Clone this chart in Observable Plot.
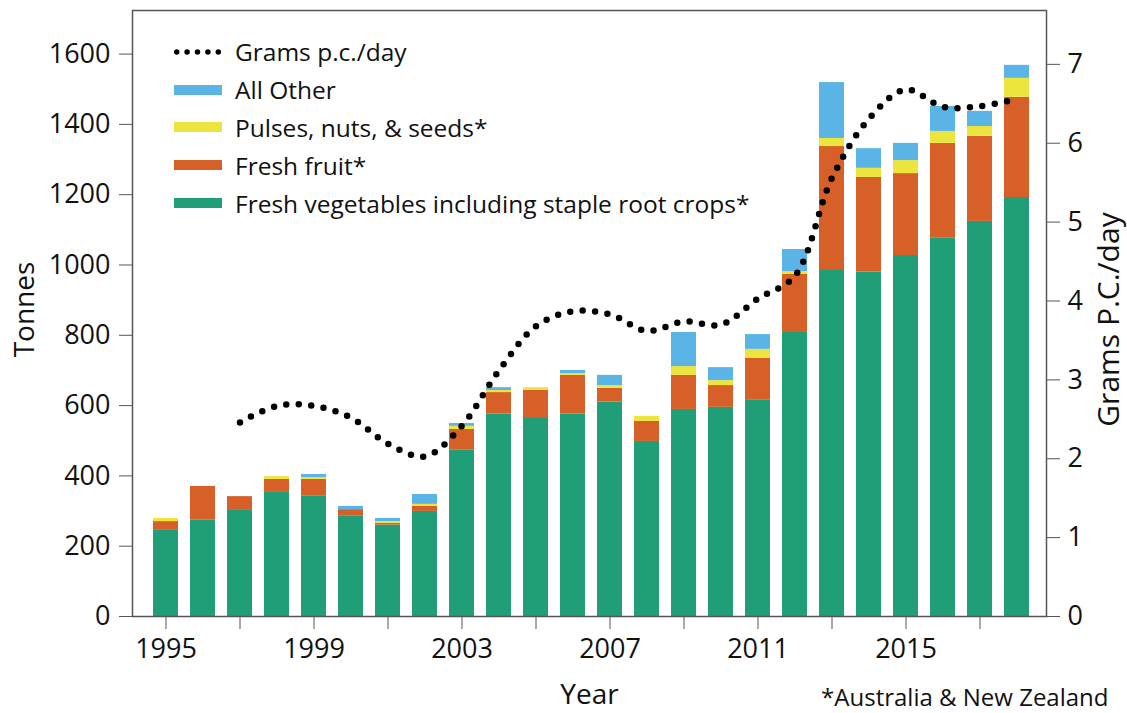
<!DOCTYPE html>
<html><head><meta charset="utf-8">
<script src="https://cdn.jsdelivr.net/npm/d3@7"></script>
<script src="https://cdn.jsdelivr.net/npm/@observablehq/plot@0.6"></script>
<style>
body{margin:0;background:#fff;font-family:"Open Sans",sans-serif;}
#wrap{position:relative;width:1127px;height:713px;}
#legend{position:absolute;left:174px;top:32.7px;font-size:24.5px;color:#111;}
.row{display:flex;align-items:center;height:37.9px;white-space:nowrap;}
.sw{width:48px;height:10px;margin-right:13px;flex:none;display:block;}
</style></head><body><div id="wrap"><div id="legend"></div></div>
<script>
const years = [1995,1996,1997,1998,1999,2000,2001,2002,2003,2004,2005,2006,2007,2008,2009,2010,2011,2012,2013,2014,2015,2016,2017,2018];
const veg    = [245,274,304,353,342,285,260,299,473,576,566,576,610,498,589,595,615,808,987,980,1027,1076,1124,1192];
const fruit  = [25,96,37,37,48,19,5,14,59,61,77,110,39,57,97,62,119,165,350,269,233,270,242,285];
const pulses = [9,0,0,8,5,0,5,6,9,6,8,5,8,14,25,14,26,8,23,26,37,34,28,54];
const other  = [0,0,0,0,9,9,9,28,8,8,0,9,29,0,97,37,42,63,159,56,49,71,43,37];
const grams  = [null,null,2.46,2.67,2.67,2.52,2.19,2.03,2.42,3.12,3.68,3.87,3.83,3.62,3.74,3.70,4.03,4.32,5.56,6.31,6.68,6.46,6.47,6.56];

const seriesNames = ["Fresh vegetables including staple root crops*","Fresh fruit*","Pulses, nuts, & seeds*","All Other"];
const seriesColors = ["#1f9e77","#d66027","#ece53e","#5bb4e6"];
const lineName = "Grams p.c./day";
const yTicks = [0,200,400,600,800,1000,1200,1400,1600];
const y2Ticks = [0,1,2,3,4,5,6,7];
const xTickYears = [1995,1997,1999,2001,2003,2005,2007,2009,2011,2013,2015,2017];
const xLabelYears = [1995,1999,2003,2007,2011,2015];
const yTitle = "Tonnes", y2Title = "Grams P.C./day", xTitle = "Year";
const note = "*Australia & New Zealand";

const seriesValues = [veg, fruit, pulses, other];
const rows = years.flatMap((yr, i) => seriesValues.map((arr, j) => ({year: yr, series: seriesNames[j], value: arr[i]})));
const gramRows = years.map((yr, i) => ({year: yr, g: grams[i]})).filter(d => d.g != null);

const yMax = 1724;
const y2 = d3.scaleLinear([0, yMax / 224.4], [0, yMax]);

const chart = Plot.plot({
  width: 1127, height: 713,
  marginTop: 10, marginBottom: 97, marginLeft: 132, marginRight: 81,
  style: {fontFamily: '"Open Sans", sans-serif', fontSize: "27px", color: "#111", background: "white"},
  x: {type: "band", domain: years, range: [134, 1048], paddingInner: 0.33, paddingOuter: 0.4},
  y: {domain: [0, yMax]},
  color: {domain: seriesNames, range: seriesColors},
  marks: [
    Plot.barY(rows, {x: "year", y: "value", fill: "series"}),
    Plot.line(gramRows, {x: "year", y: d => y2(d.g), curve: "catmull-rom", stroke: "#000", strokeWidth: 6.5, strokeDasharray: "0 12.5", strokeLinecap: "round"}),
    Plot.frame({stroke: "#555", strokeWidth: 1.5}),
    Plot.axisY({ticks: yTicks, tickFormat: d => String(d), tickSize: 13, tickPadding: 9, stroke: "#555", fill: "#111", label: null}),
    Plot.axisY(y2Ticks, {anchor: "right", y: y2, tickFormat: d => String(d), tickSize: 13, tickPadding: 8, stroke: "#555", fill: "#111", label: null}),
    Plot.axisX({ticks: xTickYears, tickFormat: d => xLabelYears.includes(d) ? String(d) : "", tickSize: 13, tickPadding: 9, stroke: "#555", fill: "#111", label: null}),
    Plot.text([yTitle], {frameAnchor: "left", rotate: -90, dx: -99, dy: -4, textAnchor: "middle", lineAnchor: "bottom", fontSize: 28, fill: "#111"}),
    Plot.text([y2Title], {frameAnchor: "right", rotate: -90, dx: 72, dy: 6, textAnchor: "middle", lineAnchor: "bottom", fontSize: 30, fill: "#111"}),
    Plot.text([xTitle], {frameAnchor: "bottom", dy: 87, textAnchor: "middle", lineAnchor: "bottom", fontSize: 28, fill: "#111"}),
    Plot.text([note], {frameAnchor: "bottom-right", dx: 62, dy: 89, textAnchor: "end", lineAnchor: "bottom", fontSize: 24, fill: "#111"})
  ]
});
const wrap = document.getElementById("wrap");
wrap.insertBefore(chart, wrap.firstChild);

// legend
const legend = document.getElementById("legend");
const items = [{name: lineName, line: true}].concat(seriesNames.map((n, i) => ({name: n, color: seriesColors[i]})).reverse());
for (const it of items) {
  const row = document.createElement("div");
  row.className = "row";
  if (it.line) {
    const s = d3.create("svg").attr("class", "sw").attr("width", 48).attr("height", 10);
    s.append("line").attr("x1", 2.7).attr("x2", 46).attr("y1", 5).attr("y2", 5)
      .attr("stroke", "#000").attr("stroke-width", 5.5).attr("stroke-linecap", "round").attr("stroke-dasharray", "0 10.4");
    row.appendChild(s.node());
  } else {
    const sw = document.createElement("div");
    sw.className = "sw";
    sw.style.background = it.color;
    row.appendChild(sw);
  }
  const t = document.createElement("span");
  t.textContent = it.name;
  row.appendChild(t);
  legend.appendChild(row);
}
</script></body></html>
